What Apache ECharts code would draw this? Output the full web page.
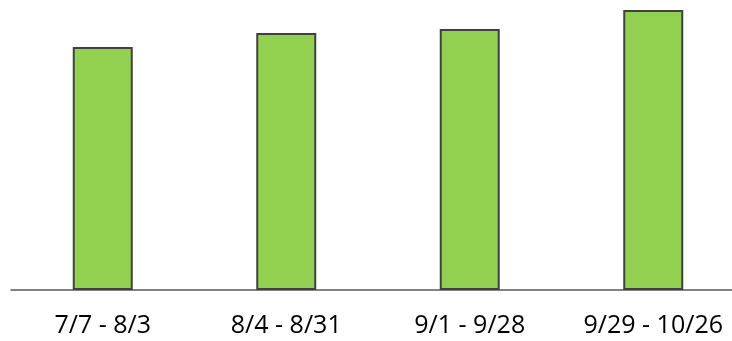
<!DOCTYPE html>
<html>
<head>
<meta charset="utf-8">
<script src="https://cdn.jsdelivr.net/npm/echarts@6/dist/echarts.min.js"></script>
<style>
  html, body { margin: 0; padding: 0; background: #fff; overflow: hidden; }
  #chart { width: 745px; height: 341px; }
</style>
</head>
<body>
<div id="chart"></div>
<script>
// Four-week periods and their totals
const categories = ['7/7 - 8/3', '8/4 - 8/31', '9/1 - 9/28', '9/29 - 10/26'];
const values = [243, 257, 261, 280];

const chart = echarts.init(document.getElementById('chart'));
chart.setOption({
  animation: false,
  grid: { left: 11, top: 0, right: 0, bottom: 51, containLabel: false },
  xAxis: {
    type: 'category',
    data: categories,
    axisLine: { lineStyle: { color: '#595959', width: 1.5 } },
    axisTick: { show: false },
    axisLabel: {
      color: '#000',
      fontFamily: 'Open Sans',
      fontSize: 25,
      margin: 23
    }
  },
  yAxis: {
    type: 'value',
    min: 0,
    max: 290,
    show: false,
    splitLine: { show: false }
  },
  series: [{
    type: 'bar',
    data: values,
    barWidth: 60,
    itemStyle: {
      color: '#92D050',
      borderColor: '#404040',
      borderWidth: 2
    }
  }]
});
</script>
</body>
</html>
